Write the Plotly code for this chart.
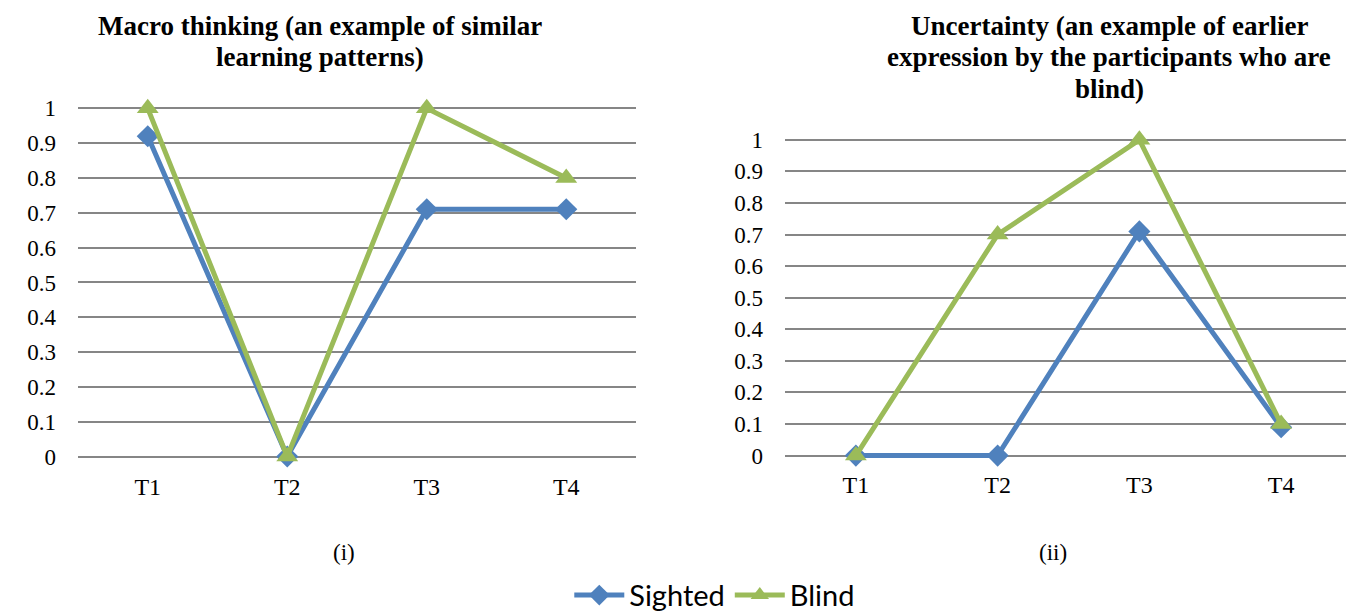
import plotly.graph_objects as go

categories = ["T1", "T2", "T3", "T4"]
macro_sighted = [0.92, 0.0, 0.71, 0.71]
macro_blind = [1.0, 0.0, 1.0, 0.8]
unc_sighted = [0.0, 0.0, 0.71, 0.09]
unc_blind = [0.0, 0.7, 1.0, 0.1]
y_ticks = [0, 0.1, 0.2, 0.3, 0.4, 0.5, 0.6, 0.7, 0.8, 0.9, 1]
y_tick_labels = ["0", "0.1", "0.2", "0.3", "0.4", "0.5", "0.6", "0.7", "0.8", "0.9", "1"]
title_left = ["Macro thinking (an example of similar", "learning patterns)"]
title_right = ["Uncertainty (an example of earlier",
               "expression by the participants who are", "blind)"]

BLUE = "#4F81BD"
GREEN = "#9BBB59"
GRID = "#868686"
SERIF = "Liberation Serif"

W, H = 1354, 613
PAD = 0.03

fig = go.Figure()

def add_series(x, y, xa, ya, name, color, symbol, size, show):
    fig.add_trace(go.Scatter(
        x=x, y=y, xaxis=xa, yaxis=ya, name=name, mode="lines+markers",
        line=dict(color=color, width=5),
        marker=dict(symbol=symbol, size=size, color=color),
        cliponaxis=False, showlegend=show, legendgroup=name))

add_series(categories, macro_sighted, "x", "y", "Sighted", BLUE, "diamond", 17, True)
add_series(categories, macro_blind, "x", "y", "Blind", GREEN, "triangle-up", 19, True)
add_series(categories, unc_sighted, "x2", "y2", "Sighted", BLUE, "diamond", 17, False)
add_series(categories, unc_blind, "x2", "y2", "Blind", GREEN, "triangle-up", 19, False)

def px_x(p):
    return p / W

def px_y(p):
    return (H - p) / H

def ydom(p0, p1):
    # p0: pixel of value 0, p1: pixel of value 1; pad range slightly
    unit = p0 - p1
    return [px_y(p0 + PAD * unit), px_y(p1 - PAD * unit)]

xcommon = dict(type="category", range=[-0.5, 3.5], showgrid=False, zeroline=False,
               showline=False, ticks="", automargin=False,
               tickfont=dict(family=SERIF, size=24, color="black"),
               ticklabelstandoff=3, fixedrange=True)
ycommon = dict(range=[-PAD, 1 + PAD], tickvals=y_ticks, ticktext=y_tick_labels, showgrid=True,
               gridcolor=GRID, gridwidth=1.5, zeroline=False, showline=False, ticks="",
               automargin=False,
               tickfont=dict(family=SERIF, size=23, color="black"),
               ticklabelstandoff=21, fixedrange=True)

fig.update_layout(
    width=W, height=H,
    margin=dict(l=0, r=0, t=0, b=0),
    paper_bgcolor="white", plot_bgcolor="white",
    xaxis=dict(domain=[px_x(70), px_x(628)], anchor="y", **xcommon),
    yaxis=dict(domain=ydom(456, 102), anchor="x", **ycommon),
    xaxis2=dict(domain=[px_x(777), px_x(1344)], anchor="y2", **xcommon),
    yaxis2=dict(domain=ydom(455, 134), anchor="x2", **ycommon),
    legend=dict(orientation="h", x=0.522, xanchor="center", y=px_y(597), yanchor="middle",
                font=dict(family="Lato", size=29, color="black"),
                tracegroupgap=0, itemwidth=50, bgcolor="rgba(0,0,0,0)"),
    showlegend=True,
)

for i, line in enumerate(title_left):
    fig.add_annotation(text="<b>" + line + "</b>",
                       x=px_x(312), y=px_y(18 + 32 * i), xref="paper", yref="paper",
                       xanchor="center", yanchor="middle", showarrow=False,
                       font=dict(family=SERIF, size=27, color="black"))
for i, line in enumerate(title_right):
    fig.add_annotation(text="<b>" + line + "</b>",
                       x=px_x(1101), y=px_y(18 + 32 * i), xref="paper", yref="paper",
                       xanchor="center", yanchor="middle", showarrow=False,
                       font=dict(family=SERIF, size=27, color="black"))
fig.add_annotation(text="(i)", x=px_x(336), y=px_y(554), xref="paper", yref="paper",
                   xanchor="center", yanchor="middle", showarrow=False,
                   font=dict(family=SERIF, size=23, color="black"))
fig.add_annotation(text="(ii)", x=px_x(1045), y=px_y(554), xref="paper", yref="paper",
                   xanchor="center", yanchor="middle", showarrow=False,
                   font=dict(family=SERIF, size=23, color="black"))

fig.write_html("out.html")
